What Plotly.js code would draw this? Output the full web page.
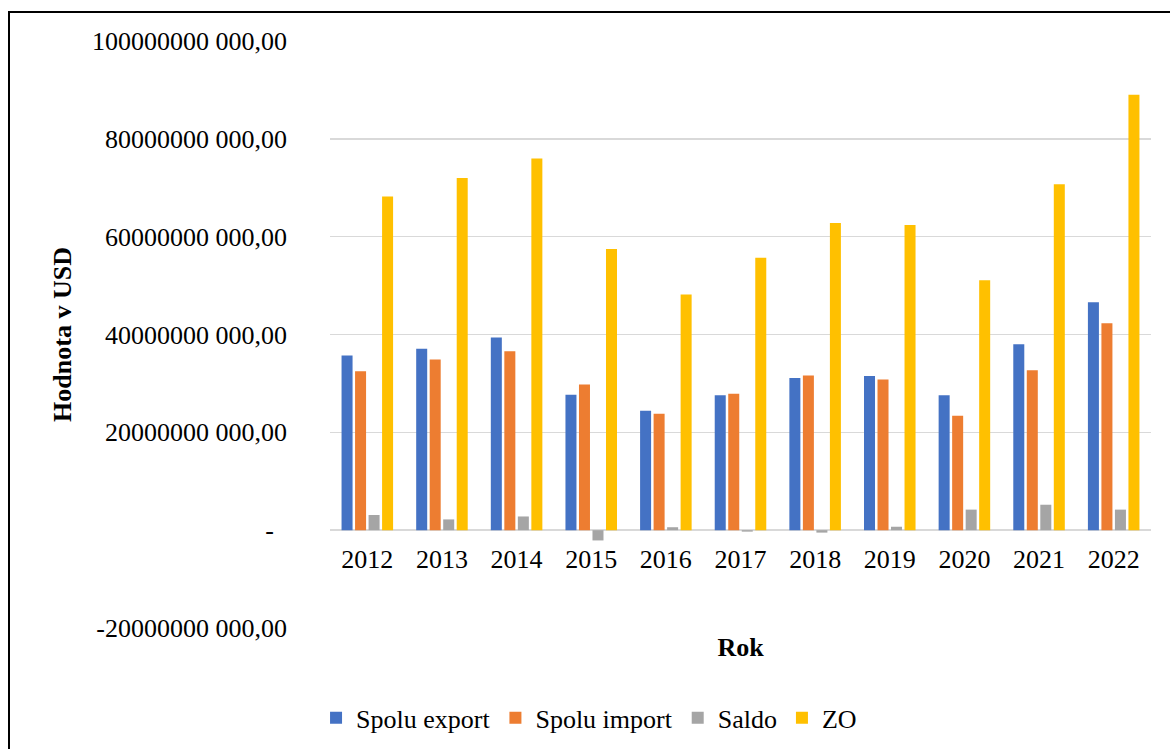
<!DOCTYPE html>
<html>
<head>
<meta charset="utf-8">
<script src="https://cdn.plot.ly/plotly-3.0.1.min.js"></script>
<style>
  html, body { margin: 0; padding: 0; width: 1170px; height: 749px; overflow: hidden; background: #ffffff; }
  #chart { position: absolute; left: 0; top: 0; width: 1170px; height: 749px; }
  #frame { position: absolute; left: 8px; top: 11px; width: 1250px; height: 850px; border: 2px solid #000; pointer-events: none; }
</style>
</head>
<body>
<div id="chart"></div>
<div id="frame"></div>
<script>
// Data (values in USD)
const years = ['2012','2013','2014','2015','2016','2017','2018','2019','2020','2021','2022'];
const seriesNames = ['Spolu export','Spolu import','Saldo','ZO'];
const exportVals = [35.7e9, 37.1e9, 39.4e9, 27.7e9, 24.4e9, 27.6e9, 31.1e9, 31.5e9, 27.6e9, 38.0e9, 46.6e9];
const importVals = [32.5e9, 34.9e9, 36.6e9, 29.8e9, 23.8e9, 27.9e9, 31.6e9, 30.8e9, 23.4e9, 32.7e9, 42.3e9];
const saldoVals  = [3.1e9, 2.2e9, 2.8e9, -2.1e9, 0.6e9, -0.3e9, -0.5e9, 0.7e9, 4.2e9, 5.2e9, 4.2e9];
const zoVals     = [68.2e9, 72.0e9, 76.0e9, 57.5e9, 48.2e9, 55.7e9, 62.8e9, 62.4e9, 51.1e9, 70.7e9, 89.0e9];
const yTickVals  = [-20e9, 0, 20e9, 40e9, 60e9, 80e9, 100e9];
const yTickText  = ['-20000000 000,00', '-\u00A0\u00A0', '20000000 000,00', '40000000 000,00', '60000000 000,00', '80000000 000,00', '100000000 000,00'];

const colors = ['#4472C4', '#ED7D31', '#A5A5A5', '#FFC000'];
const values = [exportVals, importVals, saldoVals, zoVals];
const FONT = 'Liberation Serif, Times New Roman, serif';

const traces = values.map((v, i) => ({
  type: 'bar',
  name: seriesNames[i],
  x: years,
  y: v,
  marker: { color: colors[i], line: { width: 0 } },
  hoverinfo: 'x+y+name'
}));

const layout = {
  width: 1170,
  height: 749,
  margin: { l: 330, r: 19, t: 41, b: 121, autoexpand: false },
  paper_bgcolor: 'rgba(0,0,0,0)',
  plot_bgcolor: 'rgba(0,0,0,0)',
  barmode: 'group',
  bargap: 0.276,
  bargroupgap: 0.185,
  font: { family: FONT, size: 26, color: '#000000' },
  showlegend: true,
  legend: {
    orientation: 'h',
    x: -0.017, xanchor: 'left',
    y: -0.153, yanchor: 'middle',
    font: { family: FONT, size: 26, color: '#000000' },
    bgcolor: 'rgba(0,0,0,0)'
  },
  xaxis: {
    type: 'category',
    anchor: 'free',
    position: 20 / 120,
    showgrid: false,
    showline: false,
    zeroline: false,
    ticks: '',
    ticklabelstandoff: 11,
    tickfont: { family: FONT, size: 26, color: '#000000' },
    title: { text: '<b>Rok</b>', font: { family: FONT, size: 26, color: '#000000' }, standoff: 64 }
  },
  yaxis: {
    range: [-20e9, 100e9],
    tickvals: yTickVals,
    ticktext: yTickText,
    showgrid: true,
    gridcolor: '#D9D9D9',
    gridwidth: 1.5,
    zeroline: true,
    zerolinecolor: '#D9D9D9',
    zerolinewidth: 1.5,
    showline: false,
    ticks: '',
    ticklabelstandoff: 42,
    tickfont: { family: FONT, size: 26, color: '#000000' },
    title: { text: '<b>Hodnota v USD</b>', font: { family: FONT, size: 26, color: '#000000' }, standoff: 12 }
  }
};

Plotly.newPlot('chart', traces, layout, { displayModeBar: false, staticPlot: true });
</script>
</body>
</html>
